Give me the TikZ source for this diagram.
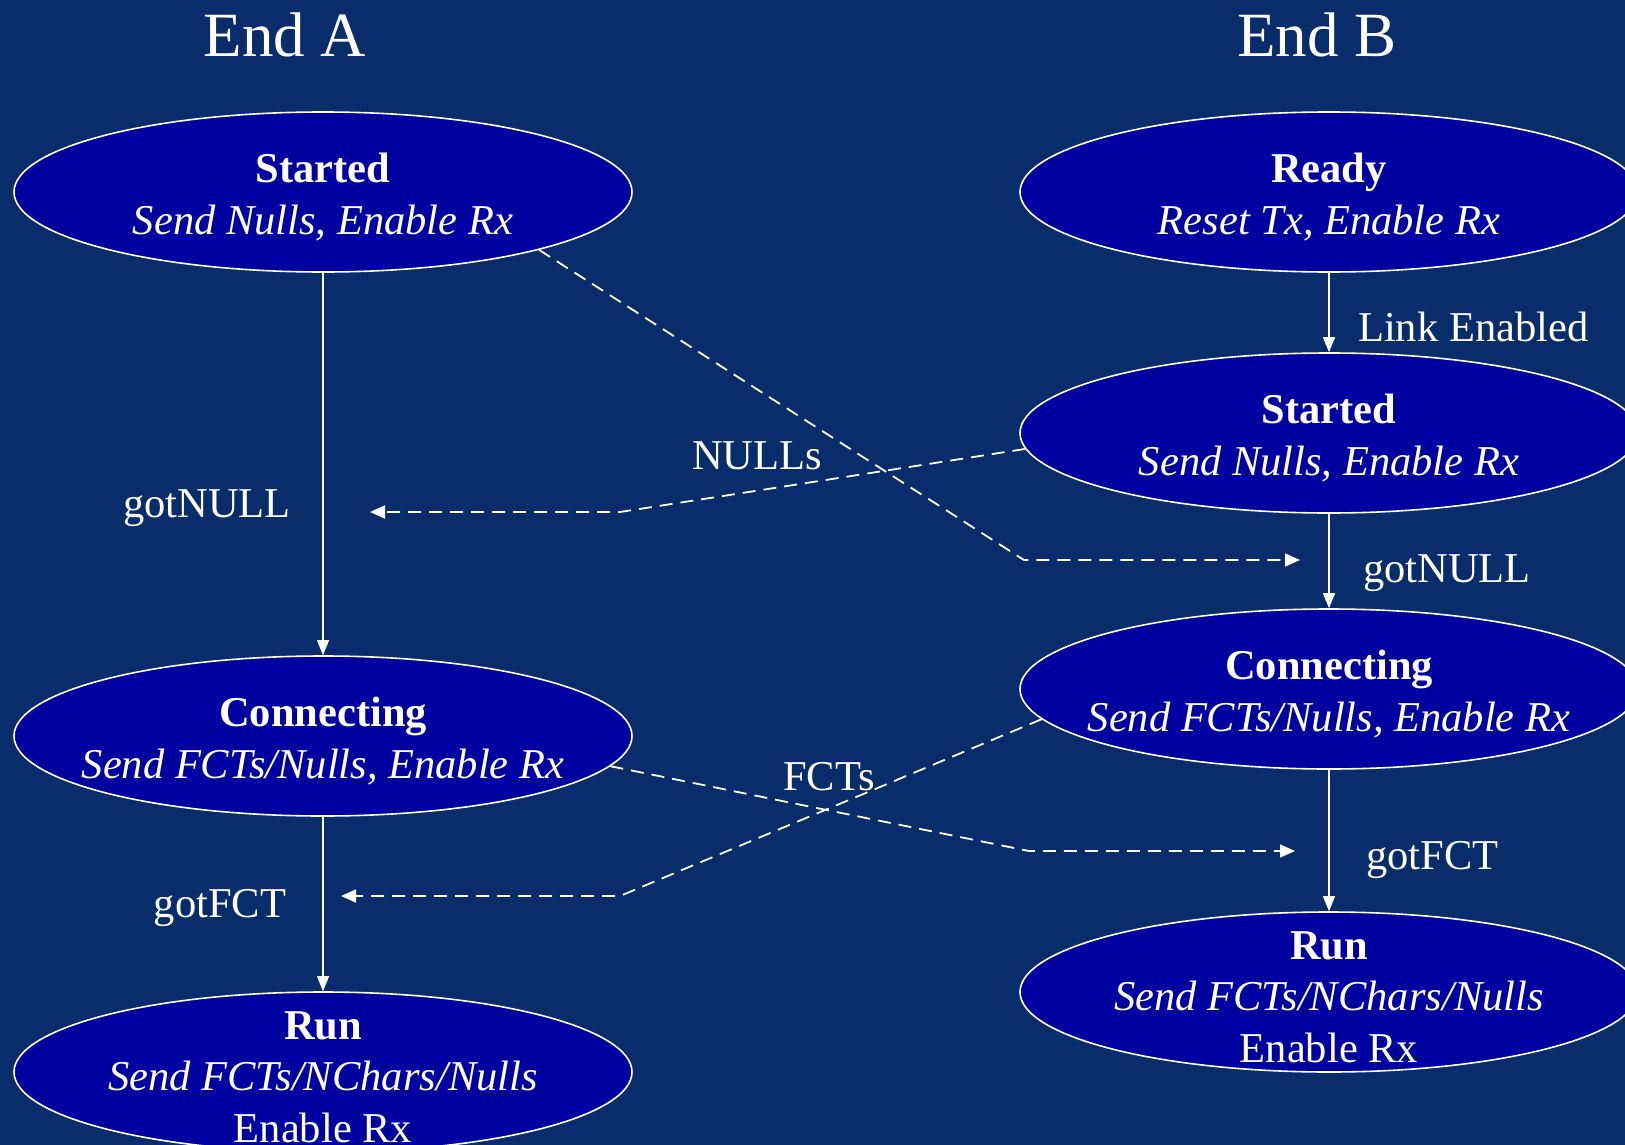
\documentclass[tikz,border=0pt]{standalone}
\usepackage{fontspec}
\setmainfont{Liberation Serif}
\usetikzlibrary{arrows.meta,shapes.geometric}
\definecolor{bgblue}{RGB}{9,45,106}
\definecolor{statefill}{RGB}{0,0,160}
\begin{document}
\begin{tikzpicture}[x=1pt,y=-1pt,
  state/.style={ellipse,draw=white,line width=1.6pt,fill=statefill,
    minimum width=618pt,minimum height=160pt,inner sep=0pt},
  statetext/.style={text=white,align=center,inner sep=0pt,
    font=\fontsize{42.5}{51.5}\selectfont,yshift=-5pt},
  lbl/.style={text=white,inner sep=0pt,font=\fontsize{42.5}{51.5}\selectfont},
  title/.style={text=white,inner sep=0pt,font=\fontsize{63}{75}\selectfont},
  trans/.style={draw=white,line width=1.4pt,-{Triangle[length=15pt,width=12pt]}},
  msg/.style={trans,line width=1.8pt,dash pattern=on 13pt off 8pt,
    -{Triangle[length=15pt,width=13pt]}}
]
\fill[bgblue] (0,0) rectangle (1625,1145);
\useasboundingbox (0,0) rectangle (1625,1145);

% column headings
\node[title,anchor=base] (endA) at (285,57) {End A};
\node[title,anchor=base] (endB) at (1317,57) {End B};

% End A states
\node[state] (stA) at (323,192) {};
\node[statetext] (stAt) at (stA) {\textbf{Started}\\\textit{Send Nulls, Enable Rx}};
\node[state] (coA) at (323,736) {};
\node[statetext] (coAt) at (coA) {\textbf{Connecting}\\\textit{Send FCTs/Nulls, Enable Rx}};
\node[state] (ruA) at (323,1072) {};
\node[statetext] (ruAt) at (ruA) {\textbf{Run}\\\textit{Send FCTs/NChars/Nulls}\\Enable Rx};

% End B states
\node[state] (rdB) at (1329,192) {};
\node[statetext] (rdBt) at (rdB) {\textbf{Ready}\\\textit{Reset Tx, Enable Rx}};
\node[state] (stB) at (1329,433) {};
\node[statetext] (stBt) at (stB) {\textbf{Started}\\\textit{Send Nulls, Enable Rx}};
\node[state] (coB) at (1329,689) {};
\node[statetext] (coBt) at (coB) {\textbf{Connecting}\\\textit{Send FCTs/Nulls, Enable Rx}};
\node[state] (ruB) at (1329,992) {};
\node[statetext] (ruBt) at (ruB) {\textbf{Run}\\\textit{Send FCTs/NChars/Nulls}\\Enable Rx};

% state transitions
\draw[trans] (stA.south) -- (coA.north);
\draw[trans] (coA.south) -- (ruA.north);
\draw[trans] (rdB.south) -- (stB.north);
\draw[trans] (stB.south) -- (coB.north);
\draw[trans] (coB.south) -- (ruB.north);

% transition labels
\node[lbl,anchor=base] (lA1) at (207,517) {gotNULL};
\node[lbl,anchor=base] (lA2) at (220,917) {gotFCT};
\node[lbl,anchor=base west] (lB0) at (1358,341) {Link Enabled};
\node[lbl,anchor=base west] (lB1) at (1363,582) {gotNULL};
\node[lbl,anchor=base west] (lB2) at (1366,869) {gotFCT};

% exchanged characters
\coordinate (n1) at (1024,560);
\coordinate (n1e) at (1300,560);
\coordinate (n2) at (620,512);
\coordinate (n2e) at (370,512);
\coordinate (f1) at (1029,851);
\coordinate (f1e) at (1295,851);
\coordinate (f2) at (620,896);
\coordinate (f2e) at (341,896);
\draw[msg] (stA.-15) -- (n1) -- (n1e);
\draw[msg] (stB.183) -- (n2) -- (n2e);
\draw[msg] (coA.-6) -- (f1) -- (f1e);
\draw[msg] (coB.186) -- (f2) -- (f2e);
\node[lbl,anchor=base] (nulls) at (757,469) {NULLs};
\node[lbl,anchor=base] (fcts) at (829,790) {FCTs};
\end{tikzpicture}
\end{document}
